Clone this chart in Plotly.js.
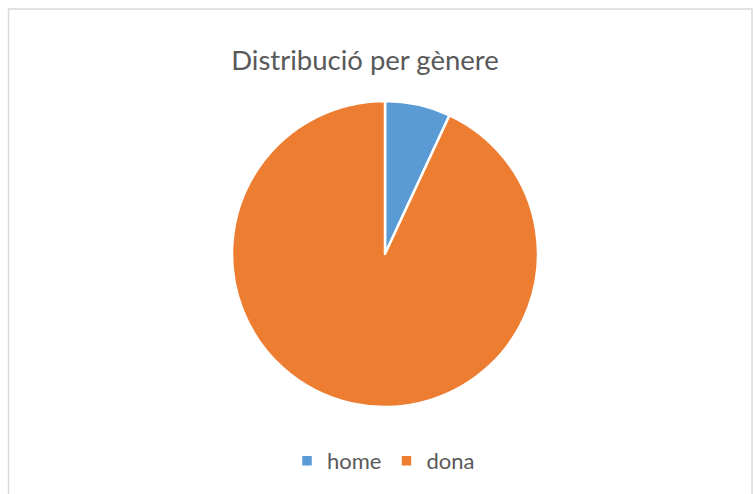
<!DOCTYPE html>
<html>
<head>
<meta charset="utf-8">
<script src="https://cdn.plot.ly/plotly-3.0.1.min.js"></script>
<style>
  html, body { margin: 0; padding: 0; background: #fff; }
  #chart { width: 753px; height: 494px; }
</style>
</head>
<body>
<div id="chart"></div>
<script>
// gender split
const categories = ["home", "dona"];
const counts = [7, 94];
const colours = ["#5b9bd5", "#ed7d31"];

const W = 753, H = 494;

const trace = {
    type: "pie",
    labels: categories,
    values: counts,
    sort: false,
    direction: "clockwise",
    rotation: 0,
    textinfo: "none",
    hoverinfo: "label+value+percent",
    marker: { colors: colours, line: { color: "#ffffff", width: 2.5 } },
    domain: { x: [232 / W, 538 / W], y: [1 - 407 / H, 1 - 101 / H] }
};

const layout = {
    width: W,
    height: H,
    margin: { l: 0, r: 0, t: 0, b: 0 },
    paper_bgcolor: "#ffffff",
    font: { family: "Lato, 'Open Sans', sans-serif", color: "#595959" },
    title: {
        text: "Distribució per gènere",
        font: { size: 27.5, color: "#595959", family: "Lato, 'Open Sans', sans-serif" },
        x: 365 / W, xanchor: "center",
        y: 1 - 60 / H, yanchor: "middle"
    },
    showlegend: true,
    legend: {
        orientation: "h",
        x: 0.5 + 7 / W, xanchor: "center",
        y: 1 - 461 / H, yanchor: "middle",
        font: { size: 22, color: "#595959" },
        itemwidth: 30
    },
    shapes: [{
        type: "rect", xref: "paper", yref: "paper",
        x0: 8.5 / W, x1: 752 / W, y0: -0.05, y1: 1 - 9 / H,
        line: { color: "#d9d9d9", width: 1.5 }
    }]
};

Plotly.newPlot("chart", [trace], layout, { displayModeBar: false, staticPlot: true });
</script>
</body>
</html>
